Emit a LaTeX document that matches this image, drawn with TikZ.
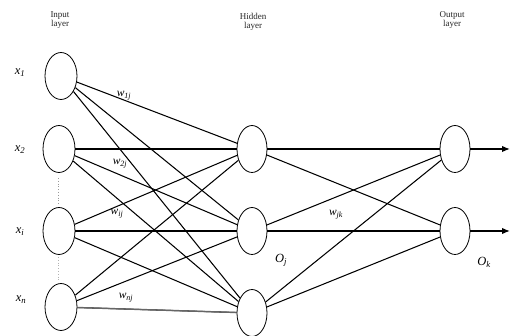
\documentclass[tikz,border=0pt]{standalone}
\usepackage{fontspec}
\setmainfont{Liberation Serif}
\usetikzlibrary{shapes.geometric,arrows.meta}
\begin{document}
\begin{tikzpicture}[x=1pt,y=-1pt,
  neuron/.style={draw,line width=0.8pt,ellipse,minimum width=32pt,minimum height=47pt,inner sep=0pt},
  conn/.style={line width=1.05pt},
  thick conn/.style={line width=1.8pt},
  layerlabel/.style={font=\fontsize{9}{9}\selectfont,align=center,text=black!85},
  varlabel/.style={font=\fontsize{12.5}{12}\selectfont\itshape},
  wlabel/.style={font=\fontsize{11.5}{11}\selectfont\itshape}]
\useasboundingbox (0,0) rectangle (512,336);
% layer labels
\node[layerlabel] (lin) at (60,20) {Input\\layer};
\node[layerlabel] (lhid) at (253,22) {Hidden\\layer};
\node[layerlabel] (lout) at (452,20) {Output\\layer};
% input nodes
\node[neuron] (x1) at (61,76) {};
\node[neuron] (x2) at (59,149) {};
\node[neuron] (xi) at (59,231) {};
\node[neuron] (xn) at (61,307) {};
% hidden nodes
\node[neuron,minimum width=30pt] (h1) at (252,149) {};
\node[neuron,minimum width=30pt] (h2) at (252,231) {};
\node[neuron,minimum width=30pt] (h3) at (252,313) {};
% output nodes
\node[neuron,minimum width=30pt] (o1) at (455,149) {};
\node[neuron,minimum width=30pt] (o2) at (455,231) {};
\coordinate (e1) at (510,149);
\coordinate (e2) at (510,231);
% dots
\coordinate (d1a) at (58,178); \coordinate (d1b) at (58,204);
\coordinate (d2a) at (58,257); \coordinate (d2b) at (58,282);
\draw[black!40,dotted,line width=0.8pt] (d1a) -- (d1b);
\draw[black!30,dotted,line width=0.8pt] (d2a) -- (d2b);
% input -> hidden
\foreach \s in {x1,x2,xi,xn}{
  \foreach \t in {h1,h2,h3}{
    \draw[conn] (\s) -- (\t);
  }
}
\draw[thick conn] (xi) -- (h2);
\draw[conn,black!60,line width=1.4pt] (xn) -- (h3);
% hidden -> output
\foreach \s in {h1,h2,h3}{
  \foreach \t in {o1,o2}{
    \draw[conn] (\s) -- (\t);
  }
}
\draw[thick conn] (h2) -- (o2);
% output arrows
\draw[line width=1.4pt,-{Latex[length=8pt,width=6.5pt]}] (o1) -- (e1);
\draw[line width=1.4pt,-{Latex[length=8pt,width=6.5pt]}] (o2) -- (e2);
% input labels
\node[varlabel] (lx1) at (20,73) {x\textsubscript{\itshape 1}};
\node[varlabel] (lx2) at (20,150) {x\textsubscript{2}};
\node[varlabel] (lxi) at (20,232) {x\textsubscript{\itshape i}};
\node[varlabel] (lxn) at (21,300) {x\textsubscript{\itshape n}};
% weight labels
\node[wlabel] (w1) at (124,96) {w\textsubscript{\itshape 1j}};
\node[wlabel] (w2) at (120,164) {w\textsubscript{\itshape 2j}};
\node[wlabel] (wi) at (117,214) {w\textsubscript{\itshape ij}};
\node[wlabel] (wn) at (126,298) {w\textsubscript{\itshape nj}};
\node[wlabel] (wjk) at (336,215) {w\textsubscript{\itshape jk}};
\node[varlabel] (oj) at (281,260) {O\textsubscript{\itshape j}};
\node[varlabel] (ok) at (484,262) {O\textsubscript{\itshape k}};
\end{tikzpicture}
\end{document}
